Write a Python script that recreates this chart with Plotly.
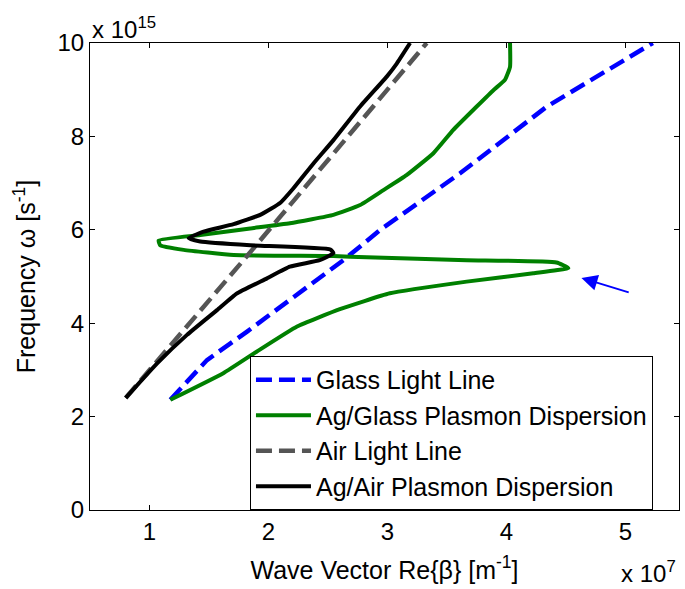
import plotly.graph_objects as go

# ---- data (units: k in 1e7 m^-1, omega in 1e15 s^-1) ----
glass_k = [1.175, 1.483, 1.82, 2.18, 2.46, 2.63, 2.94, 3.61, 4.34, 4.90, 5.23]
glass_w = [2.36, 3.21, 3.82, 4.50, 5.00, 5.35, 6.00, 7.21, 8.64, 9.49, 10.0]

ag_glass_k = [1.175, 1.62, 1.90, 2.24, 2.60, 3.02, 3.666, 4.225, 4.52, 4.42, 3.666,
              2.826, 2.546, 1.707, 1.287, 1.09, 1.077, 1.427, 1.847, 2.18, 2.546,
              2.77, 2.966, 3.16, 3.386, 3.553, 3.75, 3.89, 3.987, 4.03, 4.03]
ag_glass_w = [2.36, 2.93, 3.39, 3.93, 4.30, 4.64, 4.89, 5.07, 5.18, 5.30, 5.35,
              5.41, 5.44, 5.46, 5.57, 5.67, 5.77, 5.89, 6.03, 6.14, 6.32,
              6.53, 6.85, 7.17, 7.64, 8.14, 8.64, 8.99, 9.21, 9.49, 10.0]

air_k = [0.80, 1.79, 3.33]
air_w = [2.40, 5.35, 10.0]

ag_air_k = [0.80, 1.064, 1.315, 1.567, 1.735, 1.987, 2.18, 2.43, 2.546, 2.52, 1.847,
            1.427, 1.329, 1.455, 1.707, 1.93, 2.10, 2.21, 2.378, 2.546, 2.77, 2.994,
            3.078, 3.19]
ag_air_w = [2.40, 3.14, 3.75, 4.28, 4.64, 4.96, 5.21, 5.35, 5.50, 5.58, 5.67,
            5.75, 5.82, 5.96, 6.12, 6.32, 6.58, 6.89, 7.42, 7.92, 8.64, 9.28,
            9.56, 10.0]

x_ticks = [1, 2, 3, 4, 5]
y_ticks = [0, 2, 4, 6, 8, 10]

arrow_tip = (4.63, 4.97)
arrow_tail = (5.04, 4.65)

FONT = "Liberation Sans, Arial, sans-serif"
FS = 24
FS_BIG = 25

fig = go.Figure()
fig.add_trace(go.Scatter(x=glass_k, y=glass_w, mode="lines", name="Glass Light Line",
                         line=dict(color="rgb(0,0,255)", width=4.5, dash="16px,7px")))
fig.add_trace(go.Scatter(x=ag_glass_k, y=ag_glass_w, mode="lines", name="Ag/Glass Plasmon Dispersion",
                         line=dict(color="rgb(0,128,0)", width=4, shape="spline", smoothing=0.4)))
fig.add_trace(go.Scatter(x=air_k, y=air_w, mode="lines", name="Air Light Line",
                         line=dict(color="rgb(85,85,85)", width=4.5, dash="16px,7px")))
fig.add_trace(go.Scatter(x=ag_air_k, y=ag_air_w, mode="lines", name="Ag/Air Plasmon Dispersion",
                         line=dict(color="black", width=4, shape="spline", smoothing=0.4)))

axis_common = dict(showline=True, linecolor="black", linewidth=1, mirror="ticks",
                   ticks="inside", ticklen=5, tickcolor="black", tickwidth=1,
                   showgrid=False, zeroline=False,
                   tickfont=dict(family=FONT, size=FS, color="black"))

fig.update_layout(
    width=685, height=589,
    margin=dict(l=90, r=6, t=43, b=79, pad=0),
    paper_bgcolor="white", plot_bgcolor="white",
    font=dict(family=FONT, size=FS, color="black"),
    xaxis=dict(range=[0.5, 5.45], tickvals=x_ticks, ticktext=[str(v) for v in x_ticks],
               title=dict(text="Wave Vector Re{β} [m<sup>-1</sup>]", standoff=17,
                          font=dict(family=FONT, size=FS_BIG, color="black")),
               **axis_common),
    yaxis=dict(range=[0, 10], tickvals=y_ticks, ticktext=[str(v) for v in y_ticks],
               title=dict(text="Frequency ω [s<sup>-1</sup>]", standoff=14,
                          font=dict(family=FONT, size=FS_BIG, color="black")),
               **axis_common),
    legend=dict(x=0.2716, y=0.33, xanchor="left", yanchor="top",
                bgcolor="white", bordercolor="black", borderwidth=1,
                font=dict(family=FONT, size=FS_BIG, color="black"),
                itemwidth=55, tracegroupgap=0),
    showlegend=True,
)

fig.add_annotation(x=arrow_tip[0], y=arrow_tip[1], ax=arrow_tail[0], ay=arrow_tail[1],
                   xref="x", yref="y", axref="x", ayref="y", text="",
                   showarrow=True, arrowhead=2, arrowsize=1.6, arrowwidth=2, arrowcolor="rgb(0,0,255)")

fig.add_annotation(x=0, y=1, xref="paper", yref="paper", xanchor="left", yanchor="bottom",
                   text="x 10<sup>15</sup>", showarrow=False, yshift=-2,
                   font=dict(family=FONT, size=FS, color="black"))
fig.add_annotation(x=0.999, y=-0.133, xref="paper", yref="paper", xanchor="right", yanchor="middle",
                   text="x 10<sup>7</sup>", showarrow=False,
                   font=dict(family=FONT, size=FS, color="black"))

fig.write_html("out.html")
